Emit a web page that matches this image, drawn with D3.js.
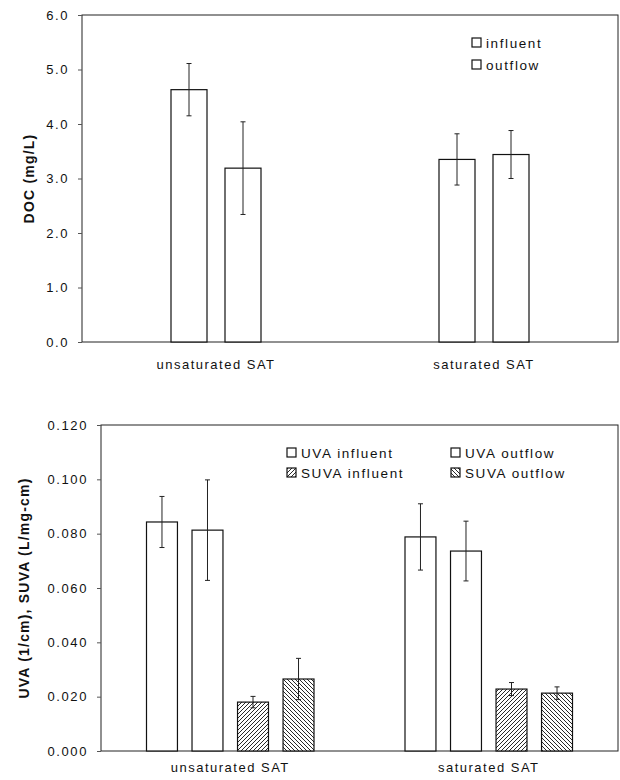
<!DOCTYPE html>
<meta charset="utf-8">
<script src="https://d3js.org/d3.v7.min.js"></script>
<style>
    body { margin: 0; background: #fff; }
    text { font-family: "Liberation Sans", Arial, sans-serif; fill: #111; }
</style>
<body>
<div id="chart"></div>
</body>
<script>
    // groups along the x axis
    const groups = ["unsaturated SAT", "saturated SAT"];

    // top panel: DOC (mg/L)
    const docSeries = ["influent", "outflow"];
    const docInfluent = [4.63, 3.35];
    const docInfluentSd = [0.48, 0.47];
    const docOutflow = [3.19, 3.44];
    const docOutflowSd = [0.85, 0.44];
    const docTicks = [0, 1, 2, 3, 4, 5, 6];

    // bottom panel: UVA (1/cm), SUVA (L/mg-cm)
    const uvSeries = ["UVA influent", "UVA outflow", "SUVA influent", "SUVA outflow"];
    const uvaInfluent = [0.0843, 0.0788];
    const uvaInfluentSd = [0.0094, 0.0122];
    const uvaOutflow = [0.0813, 0.0736];
    const uvaOutflowSd = [0.0185, 0.0110];
    const suvaInfluent = [0.0180, 0.0228];
    const suvaInfluentSd = [0.0021, 0.0024];
    const suvaOutflow = [0.0265, 0.0213];
    const suvaOutflowSd = [0.0076, 0.0023];
    const uvTicks = [0, 0.02, 0.04, 0.06, 0.08, 0.1, 0.12];

    const fills = {
        "influent": "white", "outflow": "white",
        "UVA influent": "white", "UVA outflow": "white",
        "SUVA influent": "url(#hatchFwd)", "SUVA outflow": "url(#hatchBack)"
    };

    var svg = d3.select("#chart")
        .append("svg")
        .attr("width", 620)
        .attr("height", 780);

    // hatch patterns
    var defs = svg.append("defs");
    function hatch(id, d) {
        var p = defs.append("pattern")
            .attr("id", id)
            .attr("patternUnits", "userSpaceOnUse")
            .attr("width", 4)
            .attr("height", 4);
        p.append("rect").attr("width", 4).attr("height", 4).attr("fill", "white");
        p.append("path").attr("d", d)
            .attr("stroke", "#111").attr("stroke-width", 0.9);
    }
    hatch("hatchFwd", "M-1,1 l2,-2 M0,4 l4,-4 M3,5 l2,-2");
    hatch("hatchBack", "M-1,3 l2,2 M0,0 l4,4 M3,-1 l2,2");

    function panel(opt) {
        var g = svg.append("g");
        var x = d3.scaleBand().domain(groups).range([opt.left, opt.right]);
        var y = d3.scaleLinear().domain(opt.domain).range([opt.bottom, opt.top]);
        var inner = d3.scaleBand().domain(opt.series)
            .range([-opt.span / 2, opt.span / 2])
            .paddingInner(opt.pad);

        var rows = [];
        groups.forEach(function (grp, i) {
            opt.series.forEach(function (s, j) {
                rows.push({group: grp, series: s, v: opt.values[j][i], sd: opt.sds[j][i]});
            });
        });

        // frame
        g.append("rect")
            .attr("x", opt.left).attr("y", opt.top)
            .attr("width", opt.right - opt.left)
            .attr("height", opt.bottom - opt.top)
            .attr("fill", "none")
            .attr("stroke", "#222")
            .attr("stroke-width", 1);

        var yAxis = g.append("g")
            .attr("transform", "translate(" + opt.left + ",0)")
            .call(d3.axisLeft(y).tickValues(opt.ticks).tickFormat(d3.format(opt.fmt))
                .tickSize(4).tickPadding(9));
        yAxis.select(".domain").remove();
        yAxis.selectAll("line").attr("stroke", "#555");
        yAxis.selectAll("text")
            .style("font-family", "'Liberation Sans', Arial, sans-serif")
            .style("font-size", "13px")
            .style("letter-spacing", "1.6px")
            .attr("fill", "#111");

        var cx = function (d) { return x(d.group) + x.bandwidth() / 2 + inner(d.series); };

        g.selectAll(".bar").data(rows).enter()
            .append("rect")
            .attr("x", cx)
            .attr("y", function (d) { return y(d.v); })
            .attr("width", inner.bandwidth())
            .attr("height", function (d) { return y(0) - y(d.v); })
            .attr("fill", function (d) { return fills[d.series]; })
            .attr("stroke", "#111")
            .attr("stroke-width", 1.2);

        var mid = function (d) { return cx(d) + inner.bandwidth() / 2; };
        var eb = g.selectAll(".err").data(rows).enter().append("g").attr("stroke", "#222").attr("stroke-width", 1);
        eb.append("line")
            .attr("x1", mid).attr("x2", mid)
            .attr("y1", function (d) { return y(d.v + d.sd); })
            .attr("y2", function (d) { return y(d.v - d.sd); });
        eb.append("line")
            .attr("x1", function (d) { return mid(d) - 2.5; })
            .attr("x2", function (d) { return mid(d) + 2.5; })
            .attr("y1", function (d) { return y(d.v + d.sd); })
            .attr("y2", function (d) { return y(d.v + d.sd); });
        eb.append("line")
            .attr("x1", function (d) { return mid(d) - 2.5; })
            .attr("x2", function (d) { return mid(d) + 2.5; })
            .attr("y1", function (d) { return y(d.v - d.sd); })
            .attr("y2", function (d) { return y(d.v - d.sd); });

        // group labels
        g.selectAll(".xl").data(groups).enter()
            .append("text")
            .attr("x", function (d) { return x(d) + x.bandwidth() / 2; })
            .attr("y", opt.bottom + opt.xLabelOffset)
            .attr("text-anchor", "middle")
            .style("font-size", "13px")
            .style("letter-spacing", "1.5px")
            .text(function (d) { return d; });

        // y title
        g.append("text")
            .attr("transform", "translate(" + opt.titleX + "," + ((opt.top + opt.bottom) / 2) + ") rotate(-90)")
            .attr("text-anchor", "middle")
            .style("font-size", "14px")
            .style("font-weight", "bold")
            .style("letter-spacing", "1.2px")
            .text(opt.title);

        // legend
        var lg = g.selectAll(".lg").data(opt.series).enter()
            .append("g")
            .attr("transform", function (d, i) {
                return "translate(" + opt.legend[i][0] + "," + opt.legend[i][1] + ")";
            });
        lg.append("rect")
            .attr("x", 0).attr("y", -5)
            .attr("width", 9).attr("height", 9)
            .attr("fill", function (d) { return fills[d]; })
            .attr("stroke", "#111")
            .attr("stroke-width", 1.2);
        lg.append("text")
            .attr("x", 14).attr("y", 4.5)
            .style("font-size", "13.5px")
            .style("letter-spacing", "1.6px")
            .text(function (d) { return d; });
    }

    panel({
        left: 82, right: 618, top: 15, bottom: 342,
        domain: [0, 6], ticks: docTicks, fmt: ".1f",
        series: docSeries,
        values: [docInfluent, docOutflow],
        sds: [docInfluentSd, docOutflowSd],
        span: 90, pad: 1 / 3,
        xLabelOffset: 27,
        titleX: 34, title: "DOC (mg/L)",
        legend: [[472, 43], [472, 65]]
    });

    panel({
        left: 101, right: 618, top: 425, bottom: 751,
        domain: [0, 0.12], ticks: uvTicks, fmt: ".3f",
        series: uvSeries,
        values: [uvaInfluent, uvaOutflow, suvaInfluent, suvaOutflow],
        sds: [uvaInfluentSd, uvaOutflowSd, suvaInfluentSd, suvaOutflowSd],
        span: 167.5, pad: 0.32,
        xLabelOffset: 21,
        titleX: 29, title: "UVA (1/cm), SUVA (L/mg-cm)",
        legend: [[287, 453], [451, 453], [287, 473], [451, 473]]
    });
</script>
</html>
